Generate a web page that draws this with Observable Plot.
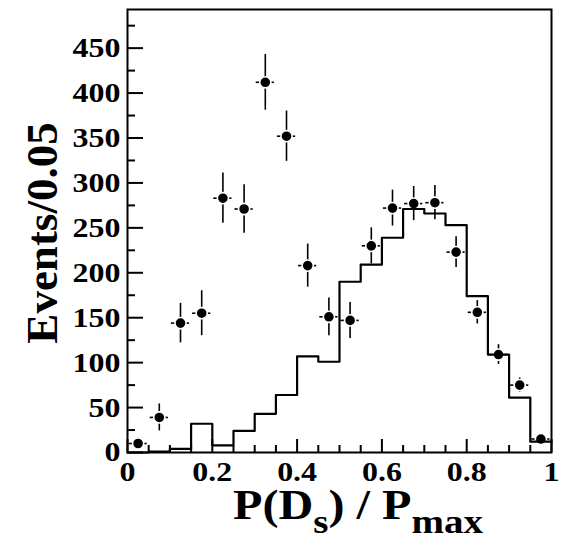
<!DOCTYPE html>
<html>
<head>
<meta charset="utf-8">
<script src="https://cdn.jsdelivr.net/npm/d3@7"></script>
<script src="https://cdn.jsdelivr.net/npm/@observablehq/plot@0.6"></script>
<style>
  html, body { margin: 0; padding: 0; background: #fff; }
  svg { display: block; }
</style>
</head>
<body>
<div id="chart"></div>
<script>
// Bin lower edges (width 0.05)
const binLo = [0.00,0.05,0.10,0.15,0.20,0.25,0.30,0.35,0.40,0.45,0.50,0.55,0.60,0.65,0.70,0.75,0.80,0.85,0.90,0.95];
const binWidth = 0.05;
// Data points (events per bin) and their errors
const dataValues = [10,39,144,155,283,271,412,352,208,151,147,230,272,277,278,223,156,109,75,15];
const dataErrors = [6,15,22,25,28,27,31,28,24,21,20,20,20,19,19,17,13,11,8,4];
// Histogram (step line) contents
const histValues = [0,1,4,32,8,24,43,64,107,101,190,209,239,271,266,253,174,109,61,12];
// Axis ticks
const yMajorTicks = [0,50,100,150,200,250,300,350,400,450];
const yMinorTicks = [25,75,125,175,225,275,325,375,425,475];
const xMajorTicks = [0,0.2,0.4,0.6,0.8,1];
const xTickLabels = ["0","0.2","0.4","0.6","0.8","1"];
const xMinorTicks = [0.05,0.1,0.15,0.25,0.3,0.35,0.45,0.5,0.55,0.65,0.7,0.75,0.85,0.9,0.95];
const yMax = 493;

const points = binLo.map((lo, i) => ({
  lo, hi: lo + binWidth, c: lo + binWidth / 2, v: dataValues[i], e: dataErrors[i]
}));
const hist = binLo.map((lo, i) => ({x: lo, y: histValues[i]}));
hist.push({x: binLo[binLo.length - 1] + binWidth, y: histValues[histValues.length - 1]});

const font = "'Liberation Serif', 'Times New Roman', serif";

const chart = Plot.plot({
  width: 566,
  height: 537,
  marginLeft: 127,
  marginRight: 15,
  marginTop: 9,
  marginBottom: 85,
  style: {fontFamily: font, fontWeight: "bold", fontSize: "28px", background: "white", color: "black"},
  x: {domain: [0, 1]},
  y: {domain: [0, yMax]},
  marks: [
    Plot.axisY(yMajorTicks, {tickSize: -16, tickPadding: 23, strokeWidth: 2, fontSize: 28, fontWeight: "bold", label: null}),
    Plot.axisY(yMinorTicks, {tickSize: -8, text: null, strokeWidth: 2, label: null}),
    Plot.axisX(xMajorTicks, {tickSize: -13, tickPadding: 22, strokeWidth: 2, fontSize: 28, fontWeight: "bold", label: null,
      tickFormat: (d) => xTickLabels[xMajorTicks.indexOf(d)]}),
    Plot.axisX(xMinorTicks, {tickSize: -7, text: null, strokeWidth: 2, label: null}),
    Plot.ruleY(points, {y: "v", x1: "lo", x2: "hi", insetLeft: 1.5, insetRight: 1.5, stroke: "black", strokeWidth: 1.6}),
    Plot.ruleX(points, {x: "c", y1: d => d.v - d.e, y2: d => d.v + d.e, stroke: "black", strokeWidth: 1.6}),
    Plot.dot(points, {x: "c", y: "v", r: 5.6, fill: "black", stroke: "white", strokeWidth: 1.6}),
    Plot.line(hist, {x: "x", y: "y", curve: "step-after", stroke: "black", strokeWidth: 2.2}),
    Plot.frame({stroke: "black", strokeWidth: 2})
  ]
});

document.getElementById("chart").appendChild(chart);

// Stretch tick labels slightly horizontally to match the wide raster font of the original
chart.querySelectorAll('g[aria-label="y-axis tick label"] text, g[aria-label="x-axis tick label"] text').forEach(t => {
  const len = t.getComputedTextLength();
  t.setAttribute("textLength", (len * 1.14).toFixed(1));
  t.setAttribute("lengthAdjust", "spacingAndGlyphs");
});

const svg = d3.select(chart);
// Y-axis title
svg.append("text")
  .attr("transform", "translate(57,233) rotate(-90)")
  .attr("text-anchor", "middle")
  .attr("font-family", font)
  .attr("font-weight", "bold")
  .attr("font-size", 45)
  .attr("fill", "black")
  .text("Events/0.05");

// X-axis title with subscripts
const xt = svg.append("text")
  .attr("x", 358)
  .attr("y", 519)
  .attr("text-anchor", "middle")
  .attr("font-family", font)
  .attr("font-weight", "bold")
  .attr("font-size", 42)
  .attr("fill", "black");
xt.append("tspan").text("P(D");
xt.append("tspan").attr("font-size", 34).attr("dy", 14).text("s");
xt.append("tspan").attr("dy", -14).text(") / P");
xt.append("tspan").attr("font-size", 34).attr("dy", 14).text("max");
const xtLen = xt.node().getComputedTextLength();
xt.attr("textLength", 250).attr("lengthAdjust", "spacingAndGlyphs");
</script>
</body>
</html>
